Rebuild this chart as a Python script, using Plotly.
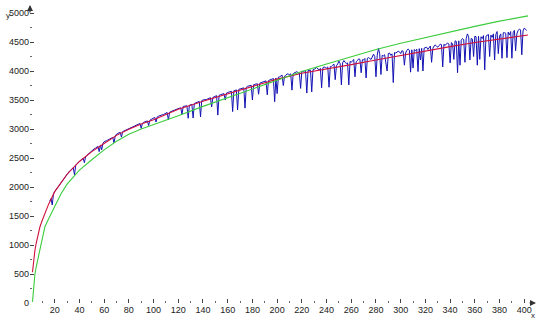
import plotly.graph_objects as go

# ---- data ----
red_x = [2, 3, 4, 5, 6, 8, 10, 12, 15, 20, 25, 30, 40, 50, 60, 70, 80, 90, 100,
         120, 140, 160, 180, 200, 220, 240, 260, 280, 300, 320, 340, 360, 380, 400, 403]
red_y = [530, 760, 910, 1030, 1140, 1310, 1430, 1540, 1700, 1920, 2080, 2220, 2440, 2610,
         2750, 2890, 2995, 3085, 3160, 3340, 3480, 3610, 3740, 3860, 3960, 4030, 4110,
         4190, 4270, 4350, 4420, 4490, 4550, 4610, 4620]

green_x = [2, 3, 4, 5, 6, 8, 10, 12, 15, 20, 25, 30, 40, 50, 60, 70, 80, 90, 100,
           120, 140, 160, 180, 200, 220, 240, 260, 280, 300, 320, 340, 360, 380, 400, 403]
green_y = [20, 330, 500, 620, 720, 960, 1170, 1310, 1450, 1680, 1880, 2050, 2290, 2470,
           2640, 2790, 2910, 3000, 3075, 3230, 3390, 3540, 3700, 3850, 3990, 4120, 4250,
           4370, 4480, 4580, 4680, 4770, 4860, 4940, 4950]

blue_x = list(range(16, 403))
blue_y = [
    1760, 1800, 1690, 1880, 1920, 1950, 1985, 2015, 2045, 2075,   # 16-25
    2105, 2135, 2165, 2190, 2215, 2245, 2275, 2290, 2310, 2335,   # 26-35
    2210, 2375, 2400, 2420, 2450, 2465, 2490, 2500, 2420, 2520,   # 36-45
    2545, 2565, 2590, 2605, 2625, 2640, 2660, 2670, 2690, 2700,   # 46-55
    2610, 2725, 2640, 2750, 2780, 2785, 2800, 2810, 2820, 2830,   # 56-65
    2840, 2855, 2760, 2880, 2910, 2920, 2935, 2945, 2860, 2955,   # 66-75
    2965, 2975, 2985, 2995, 3005, 3015, 3030, 3040, 3050, 3055,   # 76-85
    3060, 3070, 3085, 3095, 3010, 3100, 3115, 3120, 3130, 3140,   # 86-95
    3060, 3150, 3165, 3175, 3190, 3200, 3120, 3210, 3220, 3230,   # 96-105
    3245, 3245, 3250, 3265, 3280, 3285, 3155, 3290, 3300, 3310,   # 106-115
    3320, 3325, 3330, 3345, 3360, 3360, 3365, 3250, 3390, 3390,   # 116-125
    3395, 3400, 3185, 3410, 3420, 3425, 3190, 3440, 3450, 3455,   # 126-135
    3465, 3475, 3210, 3490, 3500, 3500, 3505, 3510, 3520, 3530,   # 136-145
    3540, 3380, 3545, 3555, 3570, 3575, 3240, 3580, 3590, 3595,   # 146-155
    3600, 3610, 3500, 3620, 3630, 3635, 3640, 3650, 3300, 3660,   # 156-165
    3665, 3675, 3330, 3685, 3690, 3695, 3700, 3710, 3360, 3720,   # 166-175
    3735, 3740, 3740, 3755, 3500, 3765, 3770, 3775, 3780, 3600,   # 176-185
    3790, 3800, 3810, 3815, 3820, 3830, 3590, 3835, 3845, 3850,   # 186-195
    3860, 3870, 3470, 3880, 3610, 3895, 3900, 3910, 3930, 3750,   # 196-205
    3910, 3925, 3950, 3945, 3940, 3950, 3670, 3955, 3970, 3975,   # 206-215
    3990, 3970, 3960, 3700, 4000, 3990, 3980, 3995, 3620, 4005,   # 216-225
    4010, 4015, 3640, 4020, 4030, 4040, 4060, 4035, 4020, 4045,   # 226-235
    3710, 4055, 4070, 4060, 4050, 4070, 3720, 4075, 4080, 4100,   # 236-245
    4120, 3850, 4090, 4120, 4170, 4130, 3760, 4140, 4180, 4150,   # 246-255
    4130, 4140, 3760, 4165, 4150, 4175, 4200, 3900, 4160, 4180,   # 256-265
    4210, 4200, 3970, 4195, 4190, 4215, 3880, 4220, 4230, 4215,   # 266-275
    4200, 4240, 4290, 4250, 3900, 4270, 4390, 4300, 3940, 4270,   # 276-285
    4260, 4280, 4100, 4000, 4300, 4310, 4270, 4295, 3800, 4320,   # 286-295
    4310, 4325, 4340, 4330, 4300, 4350, 4340, 4100, 4310, 4355,   # 296-305
    4380, 4360, 3980, 4365, 4050, 4370, 4350, 4375, 3990, 4385,   # 306-315
    4190, 4390, 4000, 4395, 4400, 4410, 4370, 4400, 4430, 4150,   # 316-325
    4390, 4430, 4450, 4425, 4410, 4440, 4460, 4455, 4070, 4460,   # 326-335
    4440, 4470, 4480, 4465, 4140, 4490, 4470, 4200, 4520, 4510,   # 336-345
    3970, 4520, 4100, 4530, 4560, 4540, 4150, 4560, 4640, 4590,   # 346-355
    4190, 4560, 4550, 4250, 4600, 4590, 4100, 4600, 4200, 4590,   # 356-365
    4560, 4610, 4020, 4600, 4620, 4630, 4250, 4620, 4580, 4640,   # 366-375
    4190, 4630, 4680, 4300, 4600, 4640, 4220, 4660, 4660, 4650,   # 376-385
    4230, 4670, 4620, 4680, 4220, 4660, 4700, 4350, 4640, 4700,   # 386-395
    4720, 4710, 4280, 4690, 4740, 4720, 4700,                     # 396-402
]

x_ticks = list(range(20, 401, 20))
y_ticks = list(range(0, 5001, 500))

FONT = "Liberation Sans"

fig = go.Figure()
fig.add_trace(go.Scatter(x=blue_x, y=blue_y, mode="lines",
                         line=dict(color="#1212b4", width=1), hoverinfo="skip"))
fig.add_trace(go.Scatter(x=red_x, y=red_y, mode="lines",
                         line=dict(color="#d0103c", width=1.1), hoverinfo="skip"))
fig.add_trace(go.Scatter(x=green_x, y=green_y, mode="lines",
                         line=dict(color="#3ccc3c", width=1.1), hoverinfo="skip"))

fig.update_layout(
    width=540, height=324,
    margin=dict(l=30, r=4, t=5, b=21),
    paper_bgcolor="white", plot_bgcolor="white",
    showlegend=False,
    font=dict(family=FONT, size=9, color="#222222"),
    xaxis=dict(range=[0, 409.5], tickvals=x_ticks, ticktext=[str(v) for v in x_ticks],
               ticks="inside", ticklen=4, tickcolor="#444444", tickwidth=1,
               showgrid=False, zeroline=False, showline=False,
               minor=dict(ticks="inside", ticklen=2, dtick=10, tick0=0, tickcolor="#666666"),
               tickfont=dict(family=FONT, size=9, color="#222222")),
    yaxis=dict(range=[0, 5138], tickvals=y_ticks, ticktext=[str(v) for v in y_ticks],
               ticks="inside", ticklen=4, tickcolor="#444444", tickwidth=1,
               showgrid=False, zeroline=False, showline=False,
               minor=dict(ticks="inside", ticklen=2, dtick=250, tick0=0, tickcolor="#666666"),
               tickfont=dict(family=FONT, size=9, color="#222222")),
    annotations=[
        dict(x=0, y=5138, xref="x", yref="y", ax=0, ay=9, axref="pixel", ayref="pixel",
             showarrow=True, arrowhead=2, arrowsize=1, arrowwidth=1.2, arrowcolor="#333333", text=""),
        dict(x=409.5, y=0, xref="x", yref="y", ax=-8, ay=0, axref="pixel", ayref="pixel",
             showarrow=True, arrowhead=2, arrowsize=1, arrowwidth=1.2, arrowcolor="#333333", text=""),
        dict(x=0, y=1, xref="paper", yref="paper", xshift=-26, yshift=-4, text="y",
             showarrow=False, font=dict(family=FONT, size=8, color="#222222")),
        dict(x=1, y=0, xref="paper", yref="paper", xshift=1, yshift=-19, text="x",
             showarrow=False, font=dict(family=FONT, size=8, color="#222222")),
    ],
)

fig.write_html("out.html")
